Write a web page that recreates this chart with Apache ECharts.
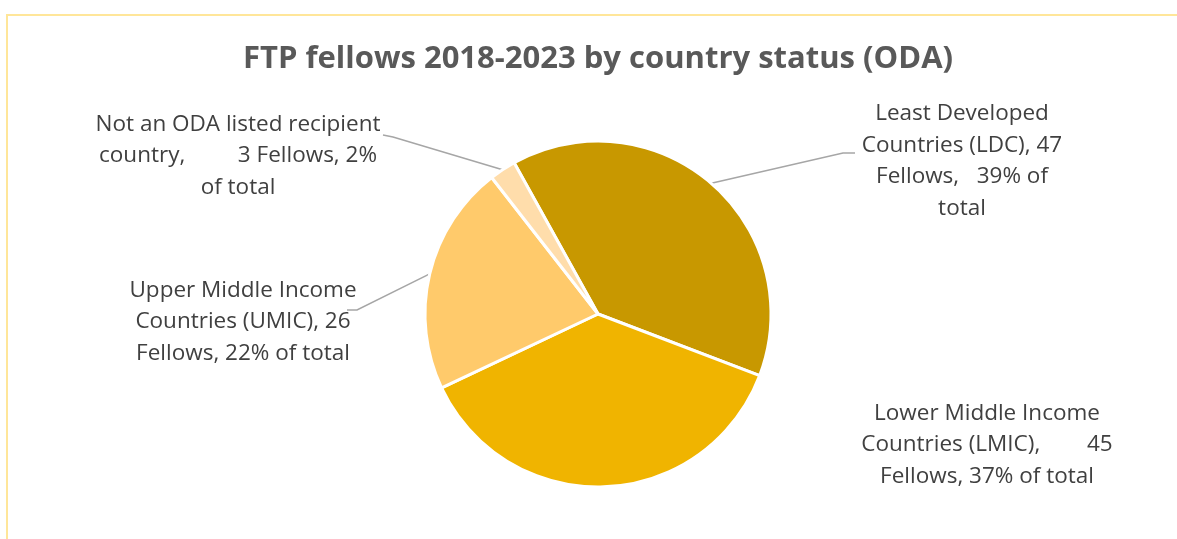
<!DOCTYPE html>
<html>
<head>
<meta charset="utf-8">
<script src="https://cdn.jsdelivr.net/npm/echarts@6/dist/echarts.min.js"></script>
<style>
  html, body { margin: 0; padding: 0; background: #ffffff; }
  #chart { width: 1177px; height: 539px; }
</style>
</head>
<body>
<div id="chart"></div>
<script>
// FTP fellows 2018-2023, grouped by ODA country status
const categories = [
  'Least Developed Countries (LDC)',
  'Lower Middle Income Countries (LMIC)',
  'Upper Middle Income Countries (UMIC)',
  'Not an ODA listed recipient country'
];
const fellows = [47, 45, 26, 3];
const shareOfTotal = ['39%', '37%', '22%', '2%'];
const sliceColors = ['#C89800', '#F0B400', '#FFCA6B', '#FFDDAB'];

// Wrapped label text; {v} = fellows, {p} = share of total
const labelTemplates = [
  'Least Developed\nCountries (LDC), {v}\nFellows,   {p} of\ntotal',
  'Lower Middle Income\nCountries (LMIC),        {v}\nFellows, {p} of total',
  'Upper Middle Income\nCountries (UMIC), {v}\nFellows, {p} of total',
  'Not an ODA listed recipient\ncountry,         {v} Fellows, {p}\nof total'
];

// Where each data label sits, and the elbow/end of its leader line
const labelPlacement = [
  { x: 962, y: 161, guide: [[843, 153], [855, 153]] },
  { x: 987, y: 445, guide: null },
  { x: 243, y: 322, guide: [[357, 310], [347, 310]] },
  { x: 238, y: 156, guide: [[393, 137], [383, 135]] }
];

const chart = echarts.init(document.getElementById('chart'), null, { renderer: 'canvas' });

const pieData = categories.map((name, i) => ({
  name: name,
  value: fellows[i],
  itemStyle: { color: sliceColors[i] },
  labelLine: { show: labelPlacement[i].guide !== null }
}));

chart.setOption({
  backgroundColor: '#ffffff',
  animation: false,
  title: {
    text: 'FTP fellows 2018-2023 by country status (ODA)',
    left: 238,
    top: 39,
    textStyle: {
      fontFamily: 'Open Sans',
      fontSize: 31,
      fontWeight: 'bold',
      color: '#595959'
    }
  },
  graphic: [{
    type: 'rect',
    silent: true,
    shape: { x: 7, y: 15, width: 1300, height: 700 },
    style: { fill: 'none', stroke: '#FFE699', lineWidth: 2 }
  }],
  series: [{
    type: 'pie',
    center: [598, 314],
    radius: 173,
    startAngle: 119,
    clockwise: true,
    avoidLabelOverlap: false,
    data: pieData,
    itemStyle: { borderColor: '#ffffff', borderWidth: 3 },
    label: {
      show: true,
      position: 'outside',
      fontFamily: 'Open Sans',
      fontSize: 22.5,
      lineHeight: 31.5,
      color: '#404040',
      align: 'center',
      formatter: p => labelTemplates[p.dataIndex]
        .replace('{v}', fellows[p.dataIndex])
        .replace('{p}', shareOfTotal[p.dataIndex])
    },
    labelLine: {
      lineStyle: { color: '#A6A6A6', width: 1.5 }
    },
    labelLayout: params => {
      const place = labelPlacement[params.dataIndex];
      const out = { x: place.x, y: place.y, align: 'center', verticalAlign: 'middle' };
      if (place.guide && params.labelLinePoints) {
        out.labelLinePoints = [params.labelLinePoints[0]].concat(place.guide);
      }
      return out;
    },
    emphasis: { disabled: true }
  }]
});
</script>
</body>
</html>
